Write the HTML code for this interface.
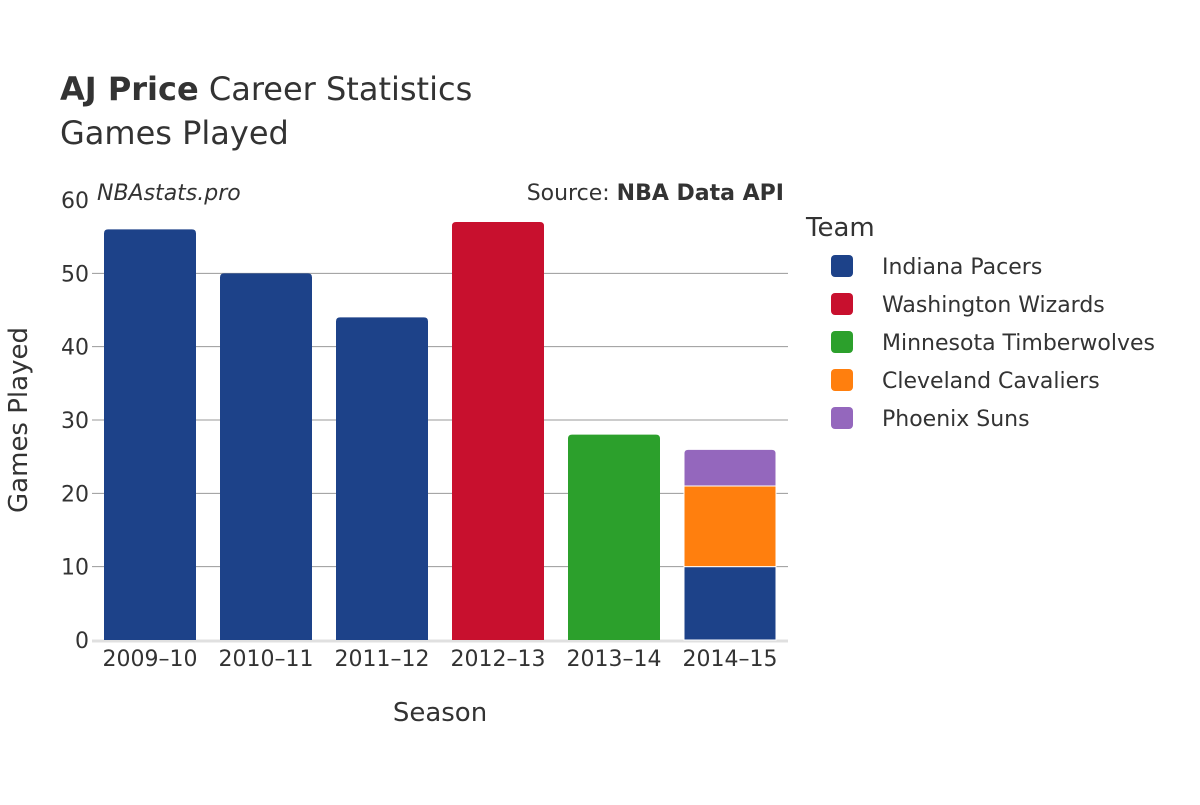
<!DOCTYPE html>
<html><head><meta charset="utf-8"><style>
body{margin:0;background:#fff;}
svg text{font-family:"DejaVu Sans","Liberation Sans",sans-serif;fill:#333;}
</style></head><body>
<svg id="chart" width="1200" height="800">
<text x="60" y="100" font-size="32"><tspan font-weight="bold">AJ Price</tspan> Career Statistics</text>
<text x="60" y="144" font-size="32">Games Played</text>
<text x="97" y="200" font-size="22" font-style="italic">NBAstats.pro</text>
<text x="784" y="200" font-size="22" text-anchor="end">Source: <tspan font-weight="bold">NBA Data API</tspan></text>
<g id="grid"></g><g id="bars"></g><g id="xt"></g><g id="yt"></g>
<text x="440" y="721" font-size="26" text-anchor="middle">Season</text>
<text transform="translate(27,420) rotate(-90)" font-size="26" text-anchor="middle">Games Played</text>
<text x="806" y="236" font-size="26">Team</text>
<g id="legend"></g>
</svg>
<script>
const seasons=["2009–10","2010–11","2011–12","2012–13","2013–14","2014–15"];
const teams=["Indiana Pacers","Washington Wizards","Minnesota Timberwolves","Cleveland Cavaliers","Phoenix Suns"];
const colors=["#1d4289","#c8102e","#2ca02c","#ff7f0e","#9467bd"];
const indiana=[56,50,44,0,0,10];
const washington=[0,0,0,57,0,0];
const minnesota=[0,0,0,0,28,0];
const cleveland=[0,0,0,0,0,11];
const phoenix=[0,0,0,0,0,5];
const yTicks=[0,10,20,30,40,50,60];
const series=[indiana,washington,minnesota,cleveland,phoenix];
const NS="http://www.w3.org/2000/svg";
const x0=92,x1=788,yTop=200,yBot=640,yMax=60;
const band=(x1-x0)/seasons.length;
const y=v=>yBot-(v/yMax)*(yBot-yTop);
const xc=i=>x0+band*(i+0.5);
function mk(t,a,p){const e=document.createElementNS(NS,t);for(const k in a)e.setAttribute(k,a[k]);p.appendChild(e);return e;}
const grid=document.getElementById('grid'),yt=document.getElementById('yt');
yTicks.forEach(v=>{
 if(v>0&&v<yMax){const l=mk('line',{x1:x0,x2:x1,y1:y(v),y2:y(v),stroke:'#999','stroke-width':1},grid);
 
 }
 const t=mk('text',{x:89,y:y(v)+8,'font-size':22,'text-anchor':'end'},yt);t.textContent=v;
 
 
});
const base=mk('line',{x1:x0,x2:x1,y1:yBot+1,y2:yBot+1,stroke:'#e0e0e0','stroke-width':3},grid);


const bars=document.getElementById('bars'),xt=document.getElementById('xt');
const bw=92;
seasons.forEach((s,i)=>{
 let acc=0;let last=-1;series.forEach((sr,j)=>{if(sr[i]>0)last=j;});
 series.forEach((sr,j)=>{
  const v=sr[i];if(!v)return;
  const yt0=y(acc+v),yb=y(acc);const h=yb-yt0;const xl=xc(i)-bw/2;const r=j===last?4:0;
  const d=`M${xl},${yb}V${yt0+r}Q${xl},${yt0} ${xl+r},${yt0}H${xl+bw-r}Q${xl+bw},${yt0} ${xl+bw},${yt0+r}V${yb}Z`;
  const p=mk('path',{d:d,fill:colors[j],stroke:'#fff','stroke-width':acc>0||j!==last?1:0},bars);
  
  
  acc+=v;
 });
 const t=mk('text',{x:xc(i),y:666,'font-size':22,'text-anchor':'middle'},xt);t.textContent=s;
 
 
});
const lg=document.getElementById('legend');
teams.forEach((tm,j)=>{
 const cy=266+38*j;
 const g=mk('g',{},lg);
 
 
 mk('rect',{x:831,y:cy-11,width:22,height:22,rx:4,fill:colors[j]},g);
 const t=mk('text',{x:882,y:cy+8,'font-size':22},g);t.textContent=tm;
});
</script>
</body></html>
